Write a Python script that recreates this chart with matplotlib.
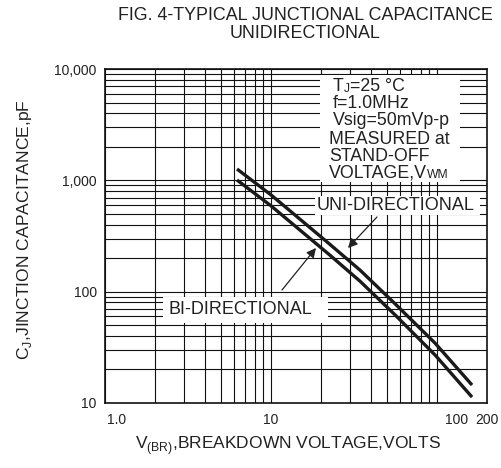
import matplotlib
matplotlib.use("Agg")
import matplotlib.pyplot as plt
import matplotlib.patches as mpatches

plt.rcParams["font.family"] = ["Liberation Sans", "DejaVu Sans"]
plt.rcParams["mathtext.fontset"] = "custom"
plt.rcParams["mathtext.rm"] = "Liberation Sans"

# (volts, pF)
uni_v = [6.24, 10.0, 22.7, 34.4, 55.8, 97.3, 162.5]
uni_pf = [1264, 740, 265, 156, 78, 34.5, 14.5]
bi_v = [6.24, 10.0, 22.7, 34.4, 55.8, 97.3, 162.5]
bi_pf = [1006, 590, 212, 124, 62, 27, 11.3]

x_tick_vals = [1, 10, 100, 200]
x_tick_text = ["1.0", "10", "100", "200"]
y_tick_vals = [10, 100, 1000, 10000]
y_tick_text = ["10", "100", "1,000", "10,000"]

# each condition line: (text, small-caps piece, tail)
conditions = [("T", "J", "=25 \u00b0C"), ("f=1.0MHz", "", ""), ("Vsig=50mVp-p", "", ""),
              ("MEASURED at", "", ""), ("STAND-OFF", "", ""), ("VOLTAGE,V", "WM", "")]

TXT = "#222222"
FS = 12.8

fig = plt.figure(figsize=(5.02, 4.68), dpi=100)
ax = fig.add_axes([105 / 502, 1 - 403 / 468, 382 / 502, 334 / 468])
ax.set_xscale("log")
ax.set_yscale("log")
ax.set_xlim(1, 200)
ax.set_ylim(10, 10000)

# grid: every 1-9 step of each decade
ax.xaxis.set_major_locator(matplotlib.ticker.FixedLocator(x_tick_vals))
ax.xaxis.set_minor_locator(matplotlib.ticker.LogLocator(base=10, subs=range(1, 10), numticks=20))
ax.yaxis.set_major_locator(matplotlib.ticker.FixedLocator(y_tick_vals))
ax.yaxis.set_minor_locator(matplotlib.ticker.LogLocator(base=10, subs=range(1, 10), numticks=20))
ax.xaxis.set_minor_formatter(matplotlib.ticker.NullFormatter())
ax.yaxis.set_minor_formatter(matplotlib.ticker.NullFormatter())
ax.grid(which="both", color="#111111", lw=0.8)
for t in ax.xaxis.get_minor_ticks():
    loc = t.get_loc()
    if 15 < loc < 95:
        t.gridline.set_color("#7a7a7a")
        t.gridline.set_linewidth(1.1)
ax.tick_params(which="both", length=0)
ax.set_xticklabels([])
ax.set_yticklabels(y_tick_text, fontsize=10, color=TXT)
ax.tick_params(axis="y", pad=6)
for s in ax.spines.values():
    s.set_linewidth(1.2)
    s.set_color("#111111")

# x tick labels sit a little off their grid lines in the original
x_shift = [12, 0, 20, 0]
for v, lab, dx in zip(x_tick_vals, x_tick_text, x_shift):
    ax.annotate(lab, xy=(v, 0), xycoords=("data", "axes fraction"),
                xytext=(dx * 0.72, -17 * 0.72), textcoords="offset points",
                ha="center", va="center", fontsize=10, color=TXT)

ax.plot(uni_v, uni_pf, color="#1a1a1a", lw=2.4, solid_capstyle="butt", zorder=3)
ax.plot(bi_v, bi_pf, color="#1a1a1a", lw=2.4, solid_capstyle="butt", zorder=3)


def ax_frac(px, py):
    """image pixel -> axes fraction"""
    return (px - 105) / 382, (403 - py) / 334


def white_box(x0, y0, x1, y1):
    fx, fy = ax_frac(x0, y1)
    ax.add_patch(mpatches.Rectangle((fx, fy), (x1 - x0) / 382, (y1 - y0) / 334,
                                    transform=ax.transAxes, facecolor="white",
                                    edgecolor="none", zorder=4))


white_box(320, 75, 460, 182)
white_box(315, 196, 480, 215)
white_box(163, 297, 328, 323)

# baselines of the condition lines
cond_y = [91, 108, 125, 144, 161, 177]
cond_x = [333, 333, 333, 329, 329, 329]
for (main, small, tail), px, py in zip(conditions, cond_x, cond_y):
    t = ax.text(*ax_frac(px, py), main, transform=ax.transAxes,
                ha="left", va="baseline", fontsize=FS, color=TXT, zorder=5)
    if small:
        t2 = ax.annotate(small, xy=(1, 0), xycoords=t, xytext=(0, 0),
                         textcoords="offset points", ha="left", va="bottom",
                         fontsize=FS * 0.68, color=TXT, zorder=5)
        if tail:
            ax.annotate(tail, xy=(1, 0), xycoords=t2, xytext=(0, -0.3),
                        textcoords="offset points", ha="left", va="bottom",
                        fontsize=FS, color=TXT, zorder=5)

ax.text(*ax_frac(396, 205), "UNI-DIRECTIONAL", transform=ax.transAxes,
        ha="center", va="center", fontsize=13, color=TXT, zorder=5)
ax.text(*ax_frac(240, 309), "BI-DIRECTIONAL", transform=ax.transAxes,
        ha="center", va="center", fontsize=13, color=TXT, zorder=5)

arw = dict(arrowstyle="-|>", lw=0.9, color=TXT, mutation_scale=14, shrinkA=0, shrinkB=0)
ax.annotate("", xy=ax_frac(348, 248), xycoords="axes fraction",
            xytext=ax_frac(377, 217), textcoords="axes fraction",
            arrowprops=arw, zorder=5)
ax.annotate("", xy=ax_frac(316, 248), xycoords="axes fraction",
            xytext=ax_frac(282, 290), textcoords="axes fraction",
            arrowprops=arw, zorder=5)

fig.text(305 / 502, 1 - 16 / 468, "FIG. 4-TYPICAL JUNCTIONAL CAPACITANCE",
         ha="center", va="center", fontsize=12.9, color=TXT)
fig.text(305 / 502, 1 - 33 / 468, "UNIDIRECTIONAL",
         ha="center", va="center", fontsize=12.9, color=TXT)
fig.text(288 / 502, 1 - 446 / 468, "V$_{\\mathregular{(BR)}}$,BREAKDOWN VOLTAGE,VOLTS",
         ha="center", va="center", fontsize=12.5, color=TXT)
fig.text(25 / 502, 1 - 230 / 468, "C$_{\\mathregular{J}}$,JINCTION CAPACITANCE,pF",
         ha="center", va="center", rotation=90, fontsize=12.6, color=TXT)

fig.savefig("out.png", dpi=100)
